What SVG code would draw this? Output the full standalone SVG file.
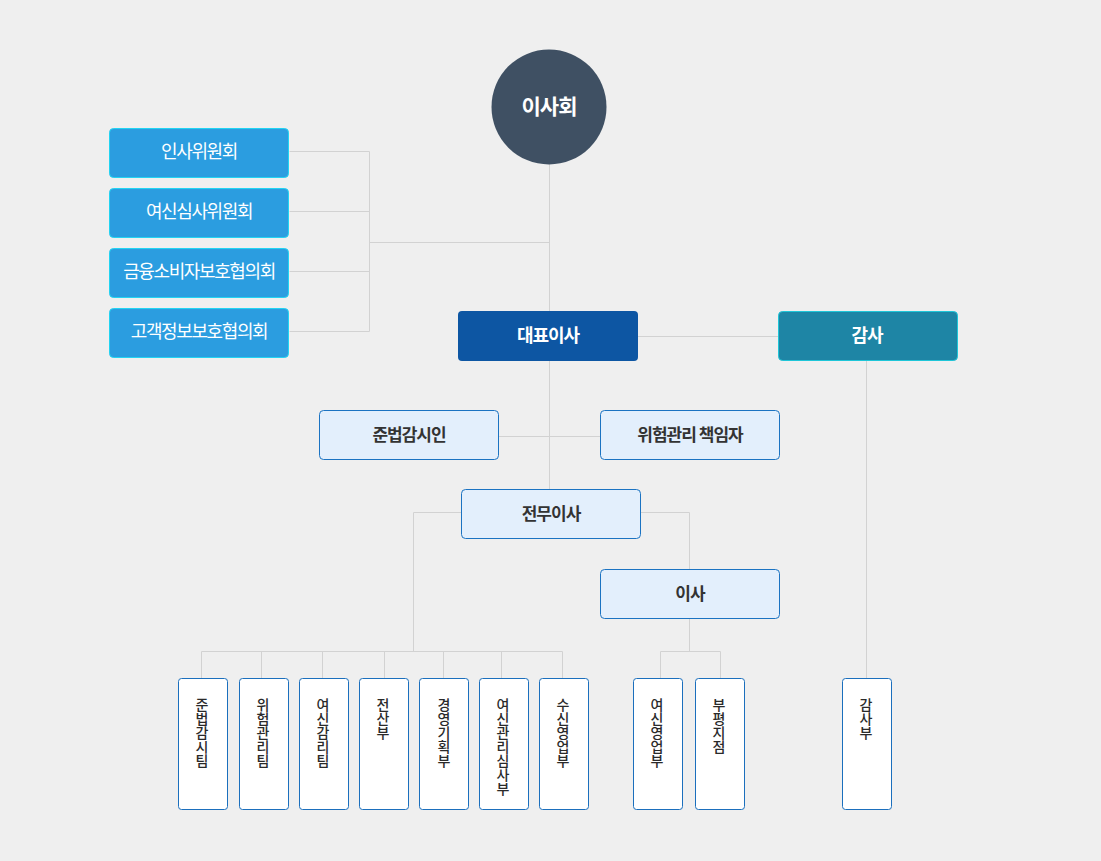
<svg xmlns="http://www.w3.org/2000/svg" width="1101" height="861" viewBox="0 0 1101 861">
<style>
text{font-family:"Noto Sans CJK KR","Noto Sans",sans-serif;text-anchor:middle}
.con{stroke:#d2d2d2;stroke-width:1;fill:none}
.com rect{fill:#2b9de0;stroke:#22d4f2;stroke-width:1}
.com text{fill:#fff;font-size:18px;letter-spacing:-1.4px}
.lt rect{fill:#e3effc;stroke:#1b73c2;stroke-width:1}
.lt text{fill:#333;font-size:17px;font-weight:bold;letter-spacing:-1px}
.dept rect{fill:#fff;stroke:#1b6fbd;stroke-width:1}
.dept text{fill:#2a2a2a;font-size:14px;font-weight:500}
</style>
<rect width="1101" height="861" fill="#efefef"/>
<g id="connectors" class="con">
<path d="M289.5 151.5H369.5M289.5 211.5H369.5M289.5 271.5H369.5M289.5 331.5H369.5M369.5 151.5V331.5M369.5 242.5H549.5"/>
<path d="M549.5 164V489"/>
<path d="M638 336.5H778"/>
<path d="M866.5 360V678"/>
<path d="M498 436.5H600"/>
<path d="M461 512.5H413.5V651.5M640 512.5H689.5V569"/>
<path d="M689.5 618V651.5M660.5 651.5H720.5M660.5 651.5V678M720.5 651.5V678"/>
<path d="M201.5 651.5H562.5M201.5 651.5V678M261.5 651.5V678M322.5 651.5V678M384.5 651.5V678M443.5 651.5V678M501.5 651.5V678M562.5 651.5V678"/>
</g>
<g id="board"><circle cx="549" cy="107" r="57.5" fill="#3f5063"/><text x="549" y="114" fill="#fff" font-size="21" font-weight="bold" letter-spacing="-1">이사회</text></g>
<g id="c1" class="com"><rect x="109.5" y="128.5" width="179" height="49" rx="4"/><text x="199" y="158">인사위원회</text></g>
<g id="c2" class="com"><rect x="109.5" y="188.5" width="179" height="49" rx="4"/><text x="199" y="218">여신심사위원회</text></g>
<g id="c3" class="com"><rect x="109.5" y="248.5" width="179" height="49" rx="4"/><text x="199" y="278">금융소비자보호협의회</text></g>
<g id="c4" class="com"><rect x="109.5" y="308.5" width="179" height="49" rx="4"/><text x="199" y="338">고객정보보호협의회</text></g>
<g id="ceo"><rect x="458" y="311" width="180" height="50" rx="4" fill="#0d56a3"/><text x="548" y="342" fill="#fff" font-size="18" font-weight="bold" letter-spacing="-1">대표이사</text></g>
<g id="audit"><rect x="778.5" y="311.5" width="179" height="49" rx="4" fill="#1e85a5" stroke="#1ec6d8"/><text x="867" y="342" fill="#fff" font-size="18" font-weight="bold" letter-spacing="-1">감사</text></g>
<g id="comp" class="lt"><rect x="319.5" y="410.5" width="179" height="49" rx="4"/><text x="409" y="441">준법감시인</text></g>
<g id="risk" class="lt"><rect x="600.5" y="410.5" width="179" height="49" rx="4"/><text x="690" y="441">위험관리 책임자</text></g>
<g id="exec" class="lt"><rect x="461.5" y="489.5" width="179" height="49" rx="4"/><text x="551" y="520">전무이사</text></g>
<g id="dir" class="lt"><rect x="600.5" y="569.5" width="179" height="49" rx="4"/><text x="690" y="600">이사</text></g>
<g id="d1" class="dept"><rect x="178.5" y="678.5" width="49" height="131" rx="3"/><text x="202" y="710"><tspan x="202">준</tspan><tspan x="202" dy="14">법</tspan><tspan x="202" dy="14">감</tspan><tspan x="202" dy="14">시</tspan><tspan x="202" dy="14">팀</tspan></text></g>
<g id="d2" class="dept"><rect x="239.5" y="678.5" width="49" height="131" rx="3"/><text x="263" y="710"><tspan x="263">위</tspan><tspan x="263" dy="14">험</tspan><tspan x="263" dy="14">관</tspan><tspan x="263" dy="14">리</tspan><tspan x="263" dy="14">팀</tspan></text></g>
<g id="d3" class="dept"><rect x="299.5" y="678.5" width="49" height="131" rx="3"/><text x="323" y="710"><tspan x="323">여</tspan><tspan x="323" dy="14">신</tspan><tspan x="323" dy="14">감</tspan><tspan x="323" dy="14">리</tspan><tspan x="323" dy="14">팀</tspan></text></g>
<g id="d4" class="dept"><rect x="359.5" y="678.5" width="49" height="131" rx="3"/><text x="383" y="710"><tspan x="383">전</tspan><tspan x="383" dy="14">산</tspan><tspan x="383" dy="14">부</tspan></text></g>
<g id="d5" class="dept"><rect x="419.5" y="678.5" width="49" height="131" rx="3"/><text x="444" y="710"><tspan x="444">경</tspan><tspan x="444" dy="14">영</tspan><tspan x="444" dy="14">기</tspan><tspan x="444" dy="14">획</tspan><tspan x="444" dy="14">부</tspan></text></g>
<g id="d6" class="dept"><rect x="479.5" y="678.5" width="49" height="131" rx="3"/><text x="503" y="710"><tspan x="503">여</tspan><tspan x="503" dy="14">신</tspan><tspan x="503" dy="14">관</tspan><tspan x="503" dy="14">리</tspan><tspan x="503" dy="14">심</tspan><tspan x="503" dy="14">사</tspan><tspan x="503" dy="14">부</tspan></text></g>
<g id="d7" class="dept"><rect x="539.5" y="678.5" width="49" height="131" rx="3"/><text x="563" y="710"><tspan x="563">수</tspan><tspan x="563" dy="14">신</tspan><tspan x="563" dy="14">영</tspan><tspan x="563" dy="14">업</tspan><tspan x="563" dy="14">부</tspan></text></g>
<g id="d8" class="dept"><rect x="633.5" y="678.5" width="49" height="131" rx="3"/><text x="657" y="710"><tspan x="657">여</tspan><tspan x="657" dy="14">신</tspan><tspan x="657" dy="14">영</tspan><tspan x="657" dy="14">업</tspan><tspan x="657" dy="14">부</tspan></text></g>
<g id="d9" class="dept"><rect x="695.5" y="678.5" width="49" height="131" rx="3"/><text x="719" y="710"><tspan x="719">부</tspan><tspan x="719" dy="14">평</tspan><tspan x="719" dy="14">지</tspan><tspan x="719" dy="14">점</tspan></text></g>
<g id="d10" class="dept"><rect x="842.5" y="678.5" width="49" height="131" rx="3"/><text x="866" y="710"><tspan x="866">감</tspan><tspan x="866" dy="14">사</tspan><tspan x="866" dy="14">부</tspan></text></g>
</svg>
